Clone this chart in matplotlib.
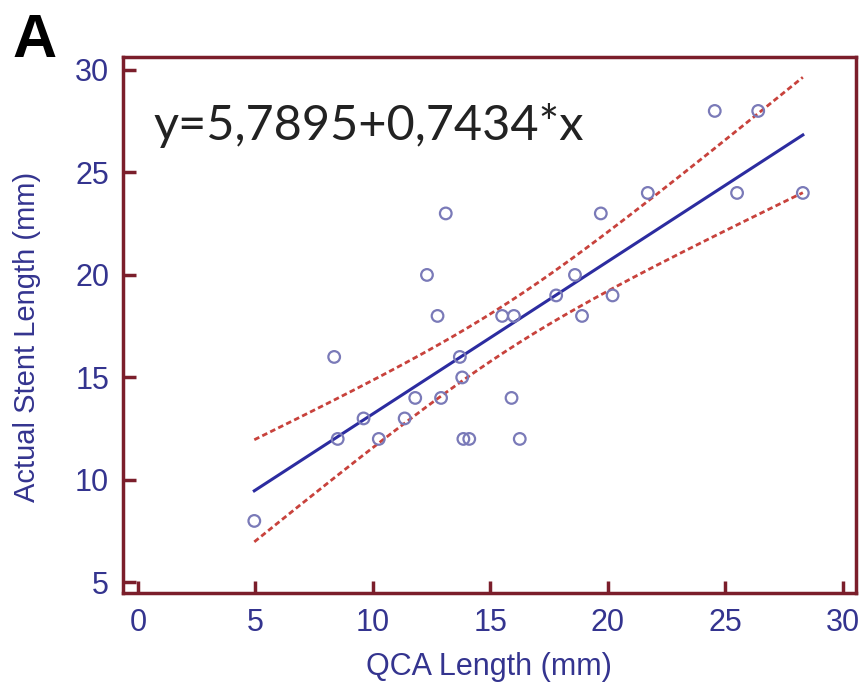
import numpy as np
import matplotlib.pyplot as plt

# QCA length vs actual stent length
qca_length = [4.95, 8.35, 8.5, 9.6, 10.25, 11.35, 11.8, 12.3, 12.75, 12.9,
              13.1, 13.7, 13.8, 13.85, 14.1, 15.5, 15.9, 16.0, 16.25, 17.8,
              18.6, 18.9, 19.7, 20.2, 21.7, 24.55, 25.5, 26.4, 28.3]
stent_length = [8, 16, 12, 13, 12, 13, 14, 20, 18, 14,
                23, 16, 15, 12, 12, 18, 14, 18, 12, 19,
                20, 18, 23, 19, 24, 28, 24, 28, 24]

intercept = 5.7895
slope = 0.7434
equation = "y=5,7895+0,7434*x"

x_ticks = [0, 5, 10, 15, 20, 25, 30]
y_ticks = [5, 10, 15, 20, 25, 30]

frame_color = "#7b1e2b"
label_color = "#34348f"

x = np.array(qca_length)
y = np.array(stent_length)
n = len(x)

# regression line and 95% confidence band
xs = np.linspace(x.min(), x.max(), 200)
ys = intercept + slope * xs
resid = y - (intercept + slope * x)
s = np.sqrt(np.sum(resid ** 2) / (n - 2))
t_crit = 2.052
half = t_crit * s * np.sqrt(1 / n + (xs - x.mean()) ** 2 / np.sum((x - x.mean()) ** 2))

fig = plt.figure(figsize=(8.6, 6.87), dpi=100)
ax = fig.add_axes([0.143, 0.137, 0.852, 0.780])

ax.plot(xs, ys + half, color="#c8423c", linewidth=2, linestyle=(0, (2, 1.2)))
ax.plot(xs, ys - half, color="#c8423c", linewidth=2, linestyle=(0, (2, 1.2)))
ax.plot(xs, ys, color="#2c2ca0", linewidth=2.2)
ax.scatter(x, y, s=70, facecolors="none", edgecolors="#7a7ab8", linewidths=1.6, zorder=3)

ax.set_xlim(-0.64, 30.55)
ax.set_ylim(4.49, 30.63)
ax.set_xticks(x_ticks)
ax.set_yticks(y_ticks)

for side in ax.spines.values():
    side.set_color(frame_color)
    side.set_linewidth(2.5)

ax.tick_params(direction="in", length=9, width=2.5, color=frame_color,
               labelcolor=label_color, labelsize=22)
ax.tick_params(axis="x", pad=11)
ax.tick_params(axis="y", pad=10)
for lbl in ax.get_xticklabels() + ax.get_yticklabels():
    lbl.set_family("Liberation Sans")

ax.set_xlabel("QCA Length (mm)", fontsize=22, color=label_color,
              family="Liberation Sans")
ax.set_ylabel("Actual Stent Length (mm)", fontsize=21, color=label_color,
              family="Liberation Sans")
ax.xaxis.label.set_va("center")
ax.yaxis.label.set_va("center")
ax.xaxis.set_label_coords(0.5, -0.138)
ax.yaxis.set_label_coords(-0.131, 0.478)

ax.text(0.041, 0.873, equation, transform=ax.transAxes, fontsize=35,
        color="#222222", family="Lato", va="center", ha="left")

fig.text(0.014, 0.94, "A", fontsize=44, fontweight="bold",
         family="Liberation Sans", color="black", va="center", ha="left")

fig.savefig("out.png", dpi=100)
